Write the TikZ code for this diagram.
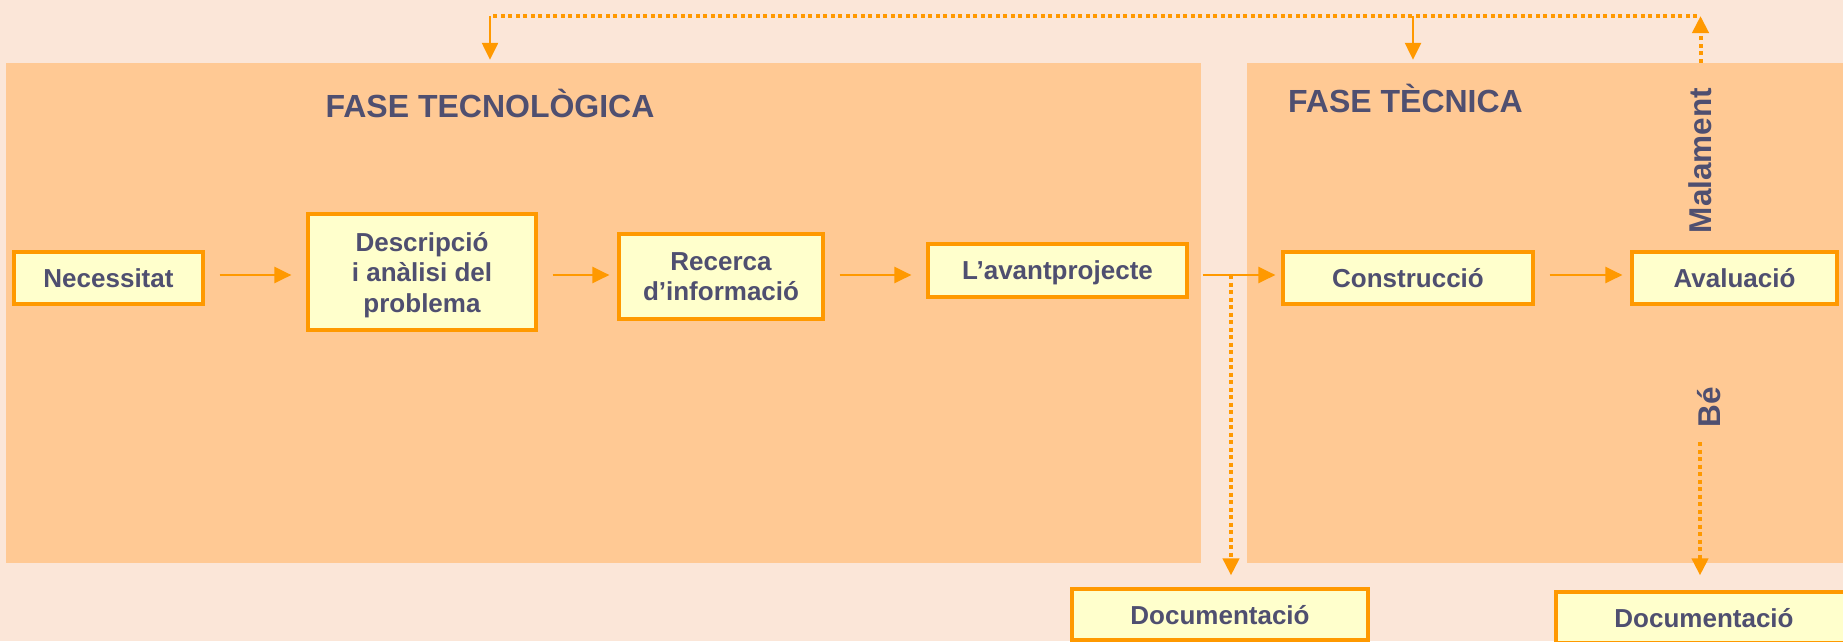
\documentclass[tikz,border=0pt]{standalone}
\usepackage{fontspec}
\setmainfont{Liberation Sans}
\usepackage{xcolor}
\usetikzlibrary{arrows.meta}

\definecolor{fons}{HTML}{FBE6D8}
\definecolor{fase}{HTML}{FFC994}
\definecolor{groc}{HTML}{FFFFCC}
\definecolor{taronja}{HTML}{FF9900}
\definecolor{tinta}{HTML}{4F4F70}

\begin{document}
\begin{tikzpicture}[x=1pt, y=-1pt,
  caixa/.style={draw=taronja, line width=3.2pt, fill=groc, text=tinta, inner sep=0pt,
    align=center, text depth=0pt, font=\fontsize{26}{30.5}\selectfont\bfseries},
  titol/.style={text=tinta, inner sep=0pt, anchor=base, font=\fontsize{32}{36}\selectfont\bfseries},
  etiqueta/.style={text=tinta, inner sep=0pt, rotate=90, font=\fontsize{31.5}{34}\selectfont\bfseries},
  fletxa/.style={draw=taronja, line width=2.4pt, -{Triangle[length=17pt, width=16pt]}},
  puntejat/.style={fletxa, line width=4pt, dash pattern=on 4pt off 3.5pt}]
  \useasboundingbox (0,0) rectangle (1843,641);
  \clip (0,0) rectangle (1843,641);
  \fill[fons] (0,0) rectangle (1843,641);

  % Fases
  \node[fill=fase, inner sep=0pt, minimum width=1195pt, minimum height=500pt] (fTec) at (603.5,313) {};
  \node[fill=fase, inner sep=0pt, minimum width=603pt, minimum height=500pt] (fTecn) at (1548.5,313) {};
  \node[titol] (tTec) at (490,117) {FASE TECNOLÒGICA};
  \node[titol] (tTecn) at (1405.5,112) {FASE TÈCNICA};

  % Passos
  \node[caixa, minimum width=189pt, minimum height=52pt] (nec) at (108.5,278) {Necessitat};
  \node[caixa, minimum width=228pt, minimum height=116pt] (desc) at (422,272) {Descripció\\i anàlisi del\\problema};
  \node[caixa, minimum width=204pt, minimum height=85pt] (rec) at (721,276.5) {Recerca\\d’informació};
  \node[caixa, minimum width=259pt, minimum height=53pt] (avant) at (1057.5,270.5) {L’avantprojecte};
  \node[caixa, minimum width=250pt, minimum height=52pt] (cons) at (1408,278) {Construcció};
  \node[caixa, minimum width=205pt, minimum height=52pt] (aval) at (1734.5,278) {Avaluació};
  \node[caixa, minimum width=296pt, minimum height=51pt] (doc1) at (1220,614.5) {Documentació};
  \node[caixa, minimum width=296pt, minimum height=51pt] (doc2) at (1704,617.5) {Documentació};

  % Fletxes
  \coordinate (eix) at (0,275);
  \draw[fletxa, shorten <=15pt, shorten >=15pt] (nec.east |- eix) -- (desc.west |- eix);
  \draw[fletxa, shorten <=15pt, shorten >=8pt] (desc.east |- eix) -- (rec.west |- eix);
  \draw[fletxa, shorten <=15pt, shorten >=15pt] (rec.east |- eix) -- (avant.west |- eix);
  \draw[fletxa, shorten <=14pt, shorten >=6pt] (avant.east |- eix) -- (cons.west |- eix);
  \draw[fletxa, shorten <=15pt, shorten >=8pt] (cons.east |- eix) -- (aval.west |- eix);

  % Documentacio
  \coordinate (branca) at (1231,275);
  \draw[puntejat, shorten >=12pt] (branca) -- (branca |- doc1.north);
  \node[etiqueta] (be) at (1709.5,407.5) {Bé};
  \coordinate (bOk) at (1700,442);
  \draw[puntejat, shorten >=15pt] (bOk) -- (bOk |- doc2.north);

  % Retorn
  \node[etiqueta] (mal) at (1700.5,160.5) {Malament};
  \coordinate (bMal) at (mal.east |- fTecn.north);
  \coordinate (retL) at (490,16);
  \coordinate (retM) at (1413,16);
  \coordinate (retR) at (1697,16);
  \draw[puntejat] (bMal) -- (bMal |- retR);
  \draw[puntejat, -] (retR) -- (retL);
  \draw[fletxa, shorten >=3pt] (retL) -- (retL |- fTec.north);
  \draw[fletxa, shorten >=3pt] (retM) -- (retM |- fTecn.north);
\end{tikzpicture}
\end{document}
